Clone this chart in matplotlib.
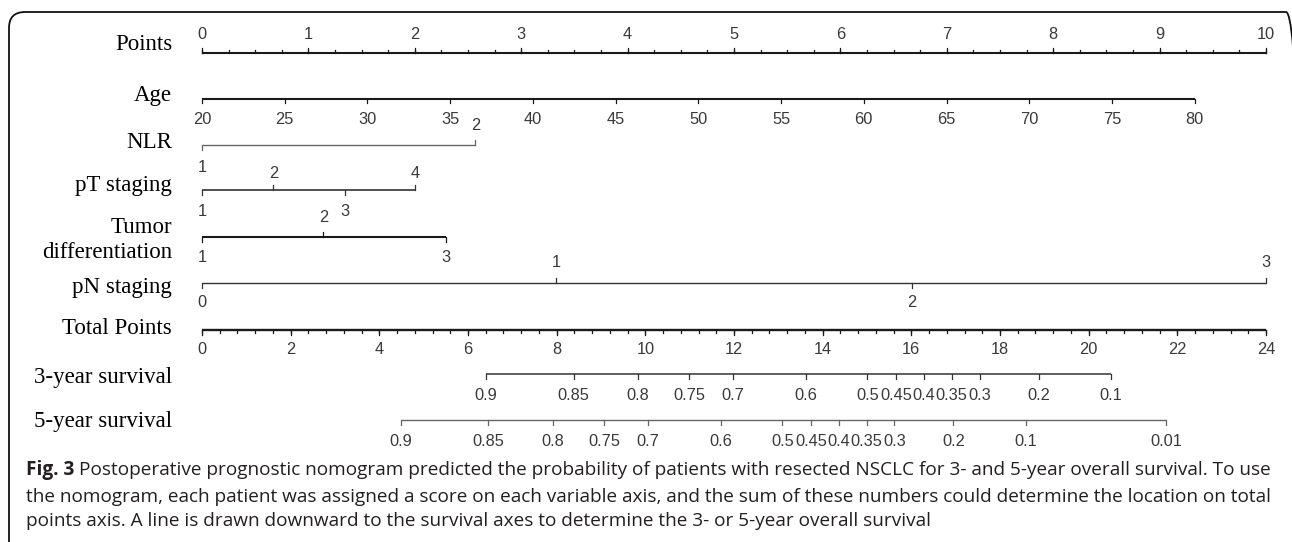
import numpy as np
import matplotlib
matplotlib.use('Agg')
import matplotlib.pyplot as plt
from matplotlib.patches import FancyBboxPatch
from matplotlib.transforms import IdentityTransform

# ---- nomogram data ----
points_major = np.arange(0, 11)
points_minor = np.arange(0, 10.01, 0.25)

age_values = [20, 25, 30, 35, 40, 45, 50, 55, 60, 65, 70, 75, 80]
age_points_at_80 = 9.33

nlr_labels = ['1', '2']
nlr_points = [0, 2.57]
nlr_sides = ['down', 'up']

pt_labels = ['1', '2', '3', '4']
pt_points = [0, 0.67, 1.34, 2.0]
pt_sides = ['down', 'up', 'down', 'up']

tumor_labels = ['1', '2', '3']
tumor_points = [0, 1.14, 2.29]
tumor_sides = ['down', 'up', 'down']

pn_labels = ['0', '1', '2', '3']
pn_points = [0, 3.33, 6.67, 10]
pn_sides = ['down', 'up', 'down', 'up']

total_max = 24
total_major = np.arange(0, 25, 2)
total_minor = np.arange(0, 24.01, 0.4)

surv3_labels = ['0.9', '0.85', '0.8', '0.75', '0.7', '0.6', '0.5', '0.45',
                '0.4', '0.35', '0.3', '0.2', '0.1']
surv3_total = [6.40, 8.38, 9.83, 10.99, 11.98, 13.62, 15.01, 15.66,
               16.29, 16.91, 17.54, 18.87, 20.50]

surv5_labels = ['0.9', '0.85', '0.8', '0.75', '0.7', '0.6', '0.5', '0.45',
                '0.4', '0.35', '0.3', '0.2', '0.1', '0.01']
surv5_total = [4.48, 6.46, 7.91, 9.07, 10.06, 11.70, 13.09, 13.74,
               14.37, 14.99, 15.62, 16.95, 18.58, 21.75]

caption = [
    "Postoperative prognostic nomogram predicted the probability of patients with resected NSCLC for 3- and 5-year overall survival. To use",
    "the nomogram, each patient was assigned a score on each variable axis, and the sum of these numbers could determine the location on total",
    "points axis. A line is drawn downward to the survival axes to determine the 3- or 5-year overall survival",
]

# ---- layout ----
W, H = 1292, 542
fig = plt.figure(figsize=(W / 100, H / 100), dpi=100)
ax = fig.add_axes([0, 0, 1, 1])
unit = 106.4  # pixels per point
ax.set_xlim(-202 / unit, (W - 202) / unit)
ax.set_ylim(H, 0)
ax.axis('off')

serif = 'Liberation Serif'
sans = 'Liberation Sans'
tick_col = '#3a3a3a'
name_x = -0.28


def name(y, txt):
    ax.text(name_x, y, txt, ha='right', va='center', family=serif,
            fontsize=16.5, color='black')


def scale_axis(y, pos, labels, sides, lw=1.2, color='#222222', tlen=5,
               off_up=18, off_dn=21, minor=None, mlen=3):
    ax.plot([min(pos), max(pos)], [y, y], color=color, lw=lw,
            solid_capstyle='butt')
    if minor is not None:
        for m in minor:
            d = -mlen if sides == 'up' else mlen
            ax.plot([m, m], [y, y + d], color=color, lw=0.9)
    for i, (p, lab) in enumerate(zip(pos, labels)):
        s = sides if isinstance(sides, str) else sides[i]
        d = -tlen if s == 'up' else tlen
        ax.plot([p, p], [y, y + d], color=color, lw=0.9)
        ty = y - off_up if s == 'up' else y + off_dn
        ax.text(p, ty, lab, ha='center', va='center', family=sans,
                fontsize=11.8, color=tick_col)


rows = {'points': 52.7, 'age': 99, 'nlr': 145, 'pt': 190, 'tumor': 237,
        'pn': 282.7, 'total': 330, 'surv3': 374, 'surv5': 420}

# Points
name(45, 'Points')
scale_axis(rows['points'], list(points_major), [str(v) for v in points_major],
           'up', lw=1.5, color='#1a1a1a', minor=points_minor)

# Age
name(95, 'Age')
age_pos = [(a - 20) / 60 * age_points_at_80 for a in age_values]
scale_axis(rows['age'], age_pos, [str(a) for a in age_values], 'down',
           lw=1.5, color='#1a1a1a', tlen=4)

# NLR
name(143, 'NLR')
scale_axis(rows['nlr'], nlr_points, nlr_labels, nlr_sides, lw=1.0,
           color='#666666', off_up=20, off_dn=22)

# pT staging
name(186, 'pT staging')
scale_axis(rows['pt'], pt_points, pt_labels, pt_sides, lw=1.2,
           color='#333333', off_up=17, off_dn=22)

# Tumor differentiation
ax.text(name_x, 240, 'Tumor\ndifferentiation', ha='right', va='center',
        family=serif, fontsize=16.5, multialignment='right', linespacing=1.3)
scale_axis(rows['tumor'], tumor_points, tumor_labels, tumor_sides, lw=1.5,
           color='#1a1a1a', off_up=19, off_dn=20)

# pN staging
name(287, 'pN staging')
scale_axis(rows['pn'], pn_points, pn_labels, pn_sides, lw=1.0,
           color='#333333', off_up=20, off_dn=20)

# Total Points
to_pts = 10 / total_max
name(328, 'Total Points')
scale_axis(rows['total'], [t * to_pts for t in total_major],
           [str(t) for t in total_major], 'down', lw=1.7, color='#1a1a1a',
           off_dn=20, minor=[t * to_pts for t in total_minor])

# survival
name(378, '3-year survival')
scale_axis(rows['surv3'], [t * to_pts for t in surv3_total], surv3_labels,
           'down', lw=1.1, color='#333333', off_dn=21)
name(421.7, '5-year survival')
scale_axis(rows['surv5'], [t * to_pts for t in surv5_total], surv5_labels,
           'down', lw=1.0, color='#666666', off_dn=21.7)

# rounded frame (right and bottom edges fall just outside the picture)
frame = FancyBboxPatch((9, -30), 1293, 542 - 12 + 30,
                       boxstyle='round,pad=0,rounding_size=16',
                       fill=False, lw=1.3, ec='#111111',
                       transform=IdentityTransform())
fig.patches.append(frame)

# caption, fitted to the figure width
cap_col = '#231f20'
fs = 12
fig.canvas.draw()
r = fig.canvas.get_renderer()
x0 = 26
bold = fig.text(x0 / W, 1 - 470 / H, 'Fig. 3', family='Open Sans',
                weight='bold', fontsize=fs, color=cap_col, va='center')
bw = bold.get_window_extent(r).width
first = fig.text((x0 + bw + 4) / W, 1 - 470 / H, caption[0],
                 family='Open Sans', fontsize=fs, color=cap_col, va='center')
total_w = bw + 4 + first.get_window_extent(r).width
k = (1262 - x0) / total_w
fs = fs * k
bold.set_fontsize(fs)
bw = bold.get_window_extent(r).width
first.set_fontsize(fs)
first.set_x((x0 + bw + 4 * k) / W)
for line, y in zip(caption[1:], [497, 521]):
    fig.text(x0 / W, 1 - y / H, line, family='Open Sans', fontsize=fs,
             color=cap_col, va='center')

fig.savefig('out.png', dpi=100)
